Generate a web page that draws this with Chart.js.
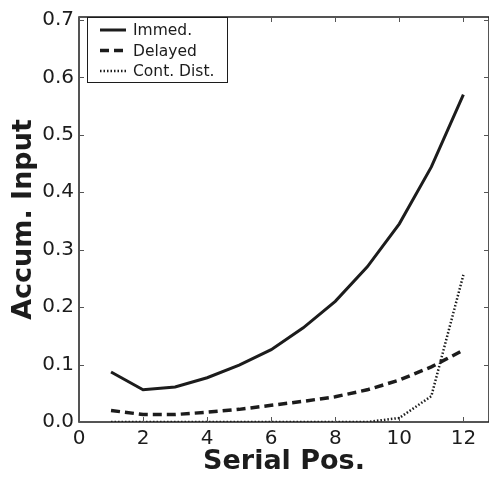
<!DOCTYPE html>
<html>
<head>
<meta charset="utf-8">
<script src="https://cdn.jsdelivr.net/npm/chart.js@4/dist/chart.umd.min.js"></script>
<style>
  html, body { margin: 0; padding: 0; background: #fff; overflow: hidden; }
  #wrap { width: 489px; height: 478px; }
</style>
</head>
<body>
<div id="wrap"><canvas id="serialChart" width="489" height="478"></canvas></div>
<script>
const positions = [1, 2, 3, 4, 5, 6, 7, 8, 9, 10, 11, 12];
const immed = [0.087, 0.056, 0.061, 0.077, 0.099, 0.126, 0.164, 0.210, 0.270, 0.345, 0.444, 0.570];
const delayed = [0.020, 0.013, 0.013, 0.017, 0.022, 0.029, 0.036, 0.044, 0.056, 0.073, 0.096, 0.125];
const contDist = [0, 0, 0, 0, 0, 0, 0, 0, 0, 0.007, 0.045, 0.256];
const xTicks = [0, 2, 4, 6, 8, 10, 12];
const yTicks = [0.0, 0.1, 0.2, 0.3, 0.4, 0.5, 0.6, 0.7];

const ink = "#1c1c1c";

function toPoints(ys) {
  return positions.map((x, i) => ({ x: x, y: ys[i] }));
}

// matplotlib-style frame: spines on all sides, ticks pointing inward
const framePlugin = {
  id: "frame",
  afterDraw(chart) {
    const { ctx, chartArea: a, scales } = chart;
    ctx.save();
    ctx.strokeStyle = ink;
    ctx.lineWidth = 1.5;
    ctx.strokeRect(a.left, a.top, a.right - a.left, a.bottom - a.top);
    ctx.lineWidth = 1;
    ctx.strokeStyle = "#555";
    xTicks.forEach(v => {
      const px = Math.round(scales.x.getPixelForValue(v)) + 0.5;
      ctx.beginPath();
      ctx.moveTo(px, a.bottom); ctx.lineTo(px, a.bottom - 5);
      ctx.moveTo(px, a.top); ctx.lineTo(px, a.top + 5);
      ctx.stroke();
    });
    yTicks.forEach(v => {
      const py = Math.round(scales.y.getPixelForValue(v)) + 0.5;
      ctx.beginPath();
      ctx.moveTo(a.left, py); ctx.lineTo(a.left + 5, py);
      ctx.moveTo(a.right, py); ctx.lineTo(a.right - 5, py);
      ctx.stroke();
    });
    ctx.restore();
  }
};

// legend box in the upper left corner
const legendPlugin = {
  id: "boxLegend",
  afterDraw(chart) {
    const { ctx } = chart;
    const x0 = 87.5, y0 = 17.5, w = 140, h = 65;
    ctx.save();
    ctx.fillStyle = "#fff";
    ctx.fillRect(x0, y0, w, h);
    ctx.strokeStyle = ink;
    ctx.lineWidth = 1;
    ctx.strokeRect(x0, y0, w, h);
    ctx.font = "15.5px 'DejaVu Sans'";
    ctx.textBaseline = "middle";
    chart.data.datasets.forEach((ds, i) => {
      const yy = 30 + i * 20.5;
      ctx.strokeStyle = ds.borderColor;
      ctx.lineWidth = ds.borderWidth;
      ctx.setLineDash(ds.borderDash || []);
      ctx.beginPath();
      ctx.moveTo(100, yy); ctx.lineTo(126, yy);
      ctx.stroke();
      ctx.setLineDash([]);
      ctx.fillStyle = ink;
      ctx.fillText(ds.label, 133, yy + 1);
    });
    ctx.restore();
  }
};

const ctx = document.getElementById("serialChart").getContext("2d");

new Chart(ctx, {
  type: "line",
  data: {
    datasets: [
      {
        label: "Immed.",
        data: toPoints(immed),
        borderColor: ink,
        borderWidth: 3,
        pointRadius: 0,
        tension: 0,
        fill: false
      },
      {
        label: "Delayed",
        data: toPoints(delayed),
        borderColor: ink,
        borderWidth: 3.5,
        borderDash: [9, 5],
        pointRadius: 0,
        tension: 0,
        fill: false
      },
      {
        label: "Cont. Dist.",
        data: toPoints(contDist),
        borderColor: ink,
        borderWidth: 2.5,
        borderDash: [1.5, 2],
        pointRadius: 0,
        tension: 0,
        fill: false
      }
    ]
  },
  options: {
    responsive: false,
    animation: false,
    layout: { padding: { top: 9, right: 0, left: 0, bottom: 0 } },
    plugins: {
      legend: { display: false },
      tooltip: { enabled: false }
    },
    scales: {
      x: {
        type: "linear",
        min: 0,
        max: 12.8,
        afterFit(scale) { scale.height = 56; },
        afterBuildTicks(scale) { scale.ticks = xTicks.map(v => ({ value: v })); },
        grid: { display: false, drawTicks: false },
        border: { display: false },
        ticks: {
          color: ink,
          padding: 5,
          maxRotation: 0,
          font: { family: "DejaVu Sans", size: 20 },
          callback: v => String(v)
        },
        title: {
          display: true,
          text: "Serial Pos.",
          color: ink,
          padding: { top: 0, bottom: 3 },
          font: { family: "DejaVu Sans", size: 27, weight: "bold", lineHeight: 1 }
        }
      },
      y: {
        min: 0,
        max: 0.705,
        afterFit(scale) { scale.width = 79; },
        afterBuildTicks(scale) { scale.ticks = yTicks.map(v => ({ value: v })); },
        grid: { display: false, drawTicks: false },
        border: { display: false },
        ticks: {
          color: ink,
          padding: 5,
          font: { family: "DejaVu Sans", size: 20 },
          callback: v => v.toFixed(1)
        },
        title: {
          display: true,
          text: "Accum. Input",
          color: ink,
          padding: { top: 10, bottom: 0 },
          font: { family: "DejaVu Sans", size: 27, weight: "bold", lineHeight: 1 }
        }
      }
    }
  },
  plugins: [framePlugin, legendPlugin]
});
</script>
</body>
</html>
